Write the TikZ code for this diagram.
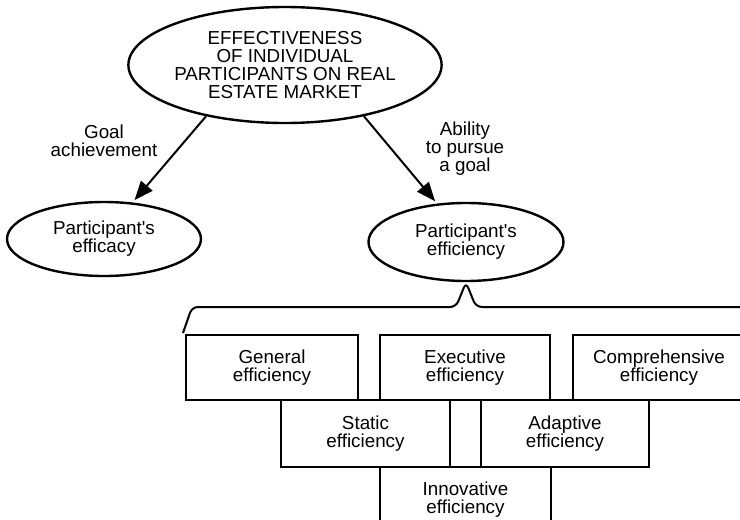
\documentclass[tikz,border=0pt]{standalone}
\usepackage{fontspec}
\setmainfont{Liberation Sans}
\usetikzlibrary{shapes.geometric,arrows.meta}
\begin{document}
\begin{tikzpicture}
  [x=1pt,y=-1pt,
   font=\fontsize{18.8}{18}\selectfont,
   oval/.style={ellipse, draw, line width=2.4pt, inner sep=0pt, align=center},
   effbox/.style={rectangle, draw, line width=2.2pt, inner sep=0pt, align=center, minimum height=66pt},
   lbl/.style={align=center, inner sep=0pt},
   arr/.style={line width=2pt, -{Triangle[length=19pt,width=15pt]}}]
  \useasboundingbox (0,0) rectangle (740,520);
  \node[oval, minimum width=304pt, minimum height=116pt] (effect) at (285,65)
    {EFFECTIVENESS\\OF INDIVIDUAL\\PARTICIPANTS ON REAL\\ESTATE MARKET};
  \node[oval, minimum width=194pt, minimum height=74pt] (efficacy) at (104,239) {Participant\textquotesingle s\\efficacy};
  \node[oval, minimum width=195pt, minimum height=78pt] (efficiency) at (466,242) {Participant\textquotesingle s\\efficiency};

  \node[lbl] (goal) at (104,141) {Goal\\achievement};
  \node[lbl] (ability) at (465,149) {Ability\\to pursue\\a goal};

  \draw[arr, shorten >=3pt] (effect.213) -- (efficacy.52);
  \draw[arr, shorten >=3pt] (effect.327) -- (efficiency.127);

  % brace under the efficiency ellipse
  \draw[line width=2pt, rounded corners=6pt]
    (183,333) -- (192,307) -- (456,307) -- (efficiency.south) -- (476,307) -- (745,307) -- (752,330);

  \node[effbox, minimum width=172pt, minimum height=65pt] (general) at (272,367.5) {General\\efficiency};
  \node[effbox, minimum width=170pt, minimum height=65pt] (executive) at (465,367.5) {Executive\\efficiency};
  \node[effbox, minimum width=172pt, minimum height=65pt] (comprehensive) at (659,367.5) {Comprehensive\\efficiency};
  \node[effbox, minimum width=169pt, minimum height=67pt] (static) at (365.5,433.5) {Static\\efficiency};
  \node[effbox, minimum width=168pt, minimum height=67pt] (adaptive) at (565,433.5) {Adaptive\\efficiency};
  \node[effbox, minimum width=171pt, minimum height=66pt] (innovative) at (465.5,500) {Innovative\\efficiency};
\end{tikzpicture}
\end{document}
